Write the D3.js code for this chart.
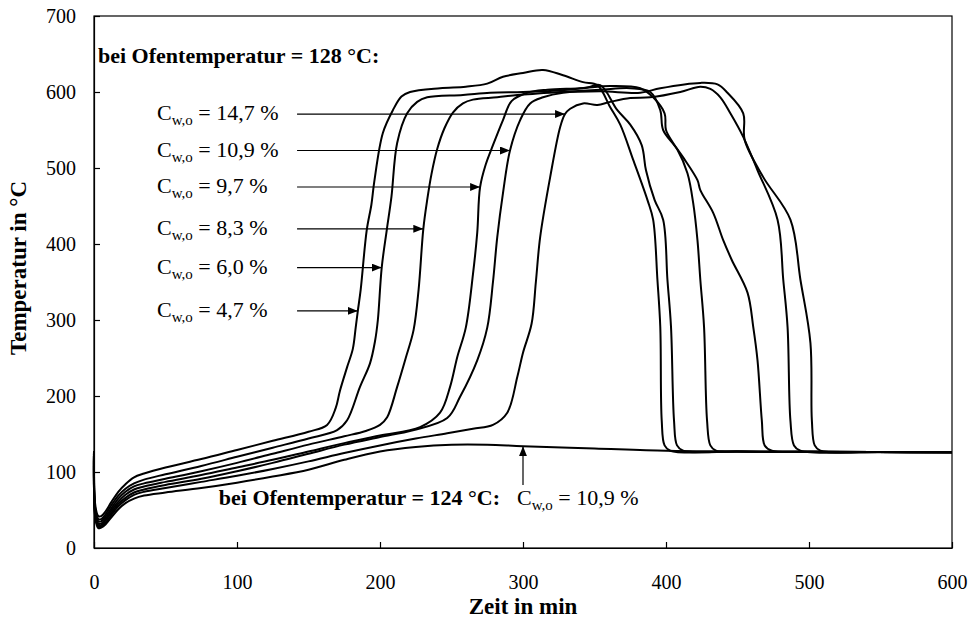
<!DOCTYPE html>
<html>
<head>
<meta charset="utf-8">
<script src="https://cdn.jsdelivr.net/npm/d3@7/dist/d3.min.js"></script>
<style>
  html, body { margin: 0; padding: 0; background: #fff; }
  svg text { font-family: "Liberation Serif", "Times New Roman", serif; fill: #000; }
</style>
</head>
<body>
<svg id="chart" width="980" height="619"></svg>
<script>
// Temperature curves [time in min, temperature in °C], oven at 128 °C
const cw47 = [[0,127],[1,55],[3,42],[5,42],[8,48],[12,60],[17,74],[22,84],[28,93],[35,98],[50,106],[75,117],[100,129],[125,141],[150,153],[163,162],[169,184],[172,207],[177,238],[181,262],[183,290],[184.5,312],[186.5,340],[190.7,418],[194,452],[196,482],[202,546],[209,576],[215,594],[221,600],[242,605],[260,607],[275,611],[286,620],[300,625],[314,629],[328,622],[342,613],[352,609],[361,580],[368,557],[377,511],[387,458],[391,432],[394,353],[396,291],[397,168],[399,135],[403,128],[450,127],[500,126.5],[600,126]];
const cw60 = [[0,127],[1,50],[3,38],[5,38],[8,44],[12,56],[17,69],[22,78],[28,85],[35,90],[50,97],[75,108],[100,120],[125,132],[150,144],[170,155],[177,168],[186,212],[193,243],[196.5,272],[198.5,300],[201.2,369],[204.7,418],[208,462],[212,533],[219,572],[226,587],[233,593],[258,596],[277,599],[300,600],[325,602],[345,606],[354,609],[366,576],[375,557],[383,530],[386,497],[392,458],[398,432],[401,353],[403.5,291],[405.6,168],[407.7,135],[412,128],[450,127],[500,126.5],[600,126]];
const cw83 = [[0,127],[1,47],[3,35],[5,35],[8,41],[12,52],[17,65],[22,74],[28,81],[35,85],[50,91],[75,101],[100,112],[125,124],[150,136],[175,147],[190,154],[200,162],[205,172],[212,212],[218,250],[223.5,287],[227,340],[230.3,420],[233,458],[236,492],[240,525],[245,552],[251,573],[258,585],[265,590],[282,593],[296,596],[326,600],[354,603],[375,605],[389,600],[396,576],[398,550],[408,524],[415,493],[419,454],[422,405],[424,353],[426.6,291],[428.7,168],[431,135],[435,128],[450,127],[500,126.5],[600,126]];
const cw97 = [[0,127],[1,44],[3,32],[5,32],[8,38],[12,49],[17,61],[22,70],[28,77],[35,81],[50,87],[75,96],[100,106],[125,116],[150,127],[175,138],[200,148],[228,159],[242,178],[249,212],[254,251],[260,290],[265,360],[268,415],[270,475],[274,505],[279,530],[286,563],[292,588],[303,599],[317,603],[340,605],[361,608],[382,605],[391,593],[399,572],[400,550],[405,533],[412,514],[422,484],[424,471],[433,441],[440,405],[446,379],[457,336],[461,291],[464,247],[467,168],[469,135],[474,128],[500,126.5],[600,126]];
const cw109 = [[0,127],[1,42],[3,30],[5,30],[8,36],[12,46],[17,58],[22,66],[28,73],[35,77],[50,83],[75,91],[100,101],[125,112],[150,124],[175,136],[200,146],[223,155],[247,171],[256,199],[268,247],[275,290],[279,350],[282,409],[286,467],[290.9,523],[298,563],[305,585],[314,593],[328,599],[354,601],[382,599],[396,605],[424,612],[436,610],[443,599],[454,572],[455,537],[468,488],[487,432],[494,353],[501,270],[502,168],[504,135],[508,128],[550,126.3],[600,126]];
const cw147 = [[0,127],[1,40],[3,28],[5,28],[8,33],[12,43],[17,55],[22,63],[28,70],[35,74],[50,79],[75,87],[100,95],[125,104],[150,114],[175,125],[200,135],[225,144],[247,151],[265,157],[279,162],[289,178],[296,225],[300,257],[306,295],[309,350],[312,409],[319,488],[326,554],[329.4,571],[333,578],[342,585],[352,583],[361,587],[375,592],[389,593],[410,600],[424,607],[431,604],[438,593],[445,572],[454,541],[464,497],[478,432],[482,353],[485,291],[487,168],[489.5,135],[494,128],[550,126.3],[600,126]];
// Oven at 124 °C, C_w,o = 10,9 %
const cw109low = [[0,127],[1,38],[3,26],[5,27],[8,31],[12,40],[17,51],[22,59],[28,65],[35,69],[50,73],[75,79],[100,86],[125,94],[150,103],[175,116],[200,127],[225,133],[250,136],[275,136],[300,134],[350,131],[400,128],[450,127],[500,126.5],[600,126]];

const series128 = [cw47, cw60, cw83, cw97, cw109, cw147];

// Arrow annotations: label text and the curve point each arrow reaches
const labelValues = ["14,7", "10,9", "9,7", "8,3", "6,0", "4,7"];
const arrowTips = [[329.4,571],[290.9,523],[270,475],[230.3,420],[201.2,369],[184.5,312]];
const arrowStartTime = 142;
const lowArrowTip = [300, 134];
const lowArrowBase = [300, 83];

const xTicks = [0, 100, 200, 300, 400, 500, 600];
const yTicks = [0, 100, 200, 300, 400, 500, 600, 700];

const svg = d3.select("#chart");
const plotLeft = 94, plotRight = 952, plotTop = 16, plotBottom = 548;

const x = d3.scaleLinear().domain([0, 600]).range([plotLeft, plotRight]);
const y = d3.scaleLinear().domain([0, 700]).range([plotBottom, plotTop]);

// arrow head
svg.append("defs").append("marker")
  .attr("id", "head")
  .attr("viewBox", "0 0 10 8")
  .attr("refX", 10).attr("refY", 4)
  .attr("markerWidth", 10).attr("markerHeight", 8)
  .attr("markerUnits", "userSpaceOnUse")
  .attr("orient", "auto")
  .append("path").attr("d", "M0,0 L10,4 L0,8 Z").attr("fill", "#000");

// plot frame
svg.append("rect")
  .attr("x", plotLeft).attr("y", plotTop)
  .attr("width", plotRight - plotLeft).attr("height", plotBottom - plotTop)
  .attr("fill", "none").attr("stroke", "#000").attr("stroke-width", 1.2);

// axes with inward ticks
const xAxis = svg.append("g")
  .attr("transform", `translate(0,${plotBottom})`)
  .call(d3.axisBottom(x).tickValues(xTicks).tickSize(-6).tickSizeOuter(0).tickPadding(27));
const yAxis = svg.append("g")
  .attr("transform", `translate(${plotLeft},0)`)
  .call(d3.axisLeft(y).tickValues(yTicks).tickSize(-6).tickSizeOuter(0).tickPadding(18));
[xAxis, yAxis].forEach(g => {
  g.select(".domain").attr("stroke", "#000").attr("stroke-width", 1.2);
  g.selectAll(".tick line").attr("stroke", "#000").attr("stroke-width", 1.2);
  g.selectAll(".tick text")
    .attr("font-family", "Liberation Serif, Times New Roman, serif")
    .attr("font-size", 20).attr("fill", "#000");
});

// curves
const line = d3.line()
  .x(d => x(d[0])).y(d => y(d[1]))
  .curve(d3.curveCatmullRom.alpha(0.5));

svg.append("g").selectAll("path")
  .data([...series128, cw109low])
  .join("path")
  .attr("d", line)
  .attr("fill", "none")
  .attr("stroke", "#000")
  .attr("stroke-width", 2)
  .attr("stroke-linejoin", "round");

// heading for the 128 °C group
svg.append("text")
  .attr("x", 98).attr("y", 63)
  .attr("font-size", 22).attr("font-weight", "bold")
  .text("bei Ofentemperatur = 128 °C:");

// C_w,o labels with arrows
function cLabel(sel, value) {
  sel.append("tspan").text("C");
  sel.append("tspan").attr("font-size", 15).attr("dy", 5).text("w,o");
  sel.append("tspan").attr("dy", -5).text(` = ${value} %`);
}

labelValues.forEach((v, i) => {
  const tip = arrowTips[i];
  svg.append("line")
    .attr("x1", x(arrowStartTime)).attr("y1", y(tip[1]))
    .attr("x2", x(tip[0])).attr("y2", y(tip[1]))
    .attr("stroke", "#000").attr("stroke-width", 1.2)
    .attr("marker-end", "url(#head)");
  svg.append("text")
    .attr("x", 157).attr("y", y(tip[1]) + 6)
    .attr("font-size", 22)
    .call(cLabel, v);
});

// 124 °C group
svg.append("line")
  .attr("x1", x(lowArrowBase[0])).attr("y1", y(lowArrowBase[1]))
  .attr("x2", x(lowArrowTip[0])).attr("y2", y(lowArrowTip[1]))
  .attr("stroke", "#000").attr("stroke-width", 1.2)
  .attr("marker-end", "url(#head)");
svg.append("text")
  .attr("x", 500).attr("y", 505)
  .attr("text-anchor", "end")
  .attr("font-size", 22).attr("font-weight", "bold")
  .text("bei Ofentemperatur = 124 °C:");
svg.append("text")
  .attr("x", 517).attr("y", 505)
  .attr("font-size", 22)
  .call(cLabel, "10,9");

// axis titles
svg.append("text")
  .attr("x", (plotLeft + plotRight) / 2).attr("y", 614)
  .attr("text-anchor", "middle")
  .attr("font-size", 23).attr("font-weight", "bold")
  .text("Zeit in min");
svg.append("text")
  .attr("transform", "translate(26,268) rotate(-90)")
  .attr("text-anchor", "middle")
  .attr("font-size", 23).attr("font-weight", "bold")
  .text("Temperatur in °C");
</script>
</body>
</html>
